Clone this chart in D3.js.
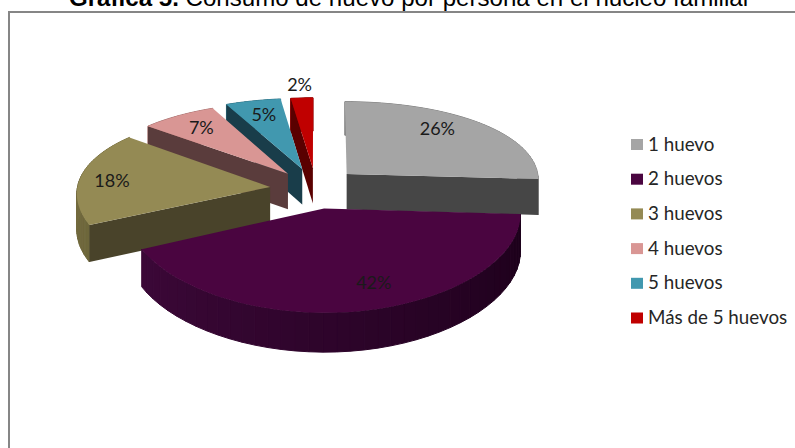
<!DOCTYPE html>
<html><head><meta charset="utf-8">
<script src="https://cdn.jsdelivr.net/npm/d3@7"></script>
<style>html,body{margin:0;padding:0;background:#fff}svg{display:block}</style>
</head><body><svg id="c" width="795" height="448"></svg>
<script>
const categories = ["1 huevo","2 huevos","3 huevos","4 huevos","5 huevos","Más de 5 huevos"];
const values = [26,42,18,7,5,2];
const labels = ["26%","42%","18%","7%","5%","2%"];
const topColors = ["#A5A5A5","#4A0540","#948A54","#D99694","#4198AF","#C00000"];
const sideColors = ["#464646","#2A0026","#49432A","#5A3C3C","#193D4A","#5A0000"];
const wallStart = ["#8A8A8A","#3C0838","#7A7244","#A87270","#2F7285","#900000"];
const wallEnd = ["#7A7A7A","#1C001A","#6E673C","#A87270","#2F7285","#900000"];
const explode = [0.22,0.22,0.24,0.24,0.26,0.26];
const lift = [3,0,0,0,0,0];
const labelRad = [0.78,0.78,0.83,0.78,0.77,1.22];
const labelTurn = [-7,-7,-2,0,0,0];
const drawOrder = [5,4,3,0,2,1];

const cx=316, cy=189.5, B=193, A=85, K=0.133, D=36;
const svg=d3.select("#c");
svg.append("rect").attr("x",9).attr("y",12).attr("width",820).attr("height",470)
  .attr("fill","#fff").attr("stroke","#868686").attr("stroke-width",2);

const pie=d3.pie().sort(null).value(d=>d)(values);
function proj(r,t,e,mid,z,l){
  const u=r*Math.sin(t)+e*Math.sin(mid), v=r*Math.cos(t)+e*Math.cos(mid);
  const w=1/(1+K*v), sw=Math.sqrt(w);
  return [cx+B*u*sw, cy-A*v*w+z*D*sw-l];
}
const poly=pts=>"M"+pts.map(p=>p[0].toFixed(2)+","+p[1].toFixed(2)).join("L")+"Z";
const g=svg.append("g");
drawOrder.forEach(i=>{
  const s=pie[i], e=explode[i], mid=(s.startAngle+s.endAngle)/2;
  const P=(r,t,z)=>proj(r,t,e,mid,z,lift[i]);
  const ts=d3.range(0,41).map(k=>s.startAngle+(s.endAngle-s.startAngle)*k/40);
  const shade=d3.scaleLinear().domain([0,40]).range([wallEnd[i],wallStart[i]]);
  ts.slice(0,-1).forEach((t,k)=>{
    const t2=ts[k+1];
    g.append("path").attr("d",poly([P(1,t,0),P(1,t2,0),P(1,t2,1),P(1,t,1)]))
     .attr("fill",shade(k)).attr("stroke",shade(k)).attr("stroke-width",1);
  });
  // radial walls that face the viewer
  const visible=[];
  if(Math.sin(s.endAngle)>0.001) visible.push(s.endAngle);
  if(Math.sin(s.startAngle)<-0.001) visible.push(s.startAngle);
  visible.forEach(t=>{
    g.append("path").attr("d",poly([P(0,t,0),P(1,t,0),P(1,t,1),P(0,t,1)])).attr("fill",sideColors[i]);
  });
  g.append("path").attr("d",poly([P(0,s.startAngle,0)].concat(ts.map(t=>P(1,t,0))))).attr("fill",topColors[i]);
});
// labels
const lab=svg.append("g").attr("font-family","Lato, 'Open Sans', sans-serif").attr("font-size",18).attr("fill","#1a1a1a").attr("text-anchor","middle");
pie.forEach((s,i)=>{
  const mid=(s.startAngle+s.endAngle)/2;
  const p=proj(labelRad[i],mid+labelTurn[i]*Math.PI/180,explode[i],mid,0,lift[i]);
  lab.append("text").attr("x",p[0]).attr("y",p[1]+6).text(labels[i]);
});
// legend
const ly=d3.scalePoint().domain(categories).range([144.5,318]);
const leg=svg.append("g").attr("font-family","Lato, 'Open Sans', sans-serif").attr("font-size",18.8).attr("fill","#262626");
categories.forEach((c,i)=>{
  leg.append("rect").attr("x",631).attr("y",ly(c)-5.5).attr("width",12).attr("height",11).attr("fill",topColors[i]);
  leg.append("text").attr("x",648).attr("y",ly(c)+6).text(c);
});
// title
const title=svg.append("text").attr("x",69).attr("y",6).attr("font-family","'Liberation Sans',Arial,sans-serif").attr("font-size",24.1).attr("fill","#000");
title.append("tspan").attr("font-weight","bold").text("Gráfica 5.");
title.append("tspan").text(" Consumo de huevo por persona en el núcleo familiar");
</script></body></html>
